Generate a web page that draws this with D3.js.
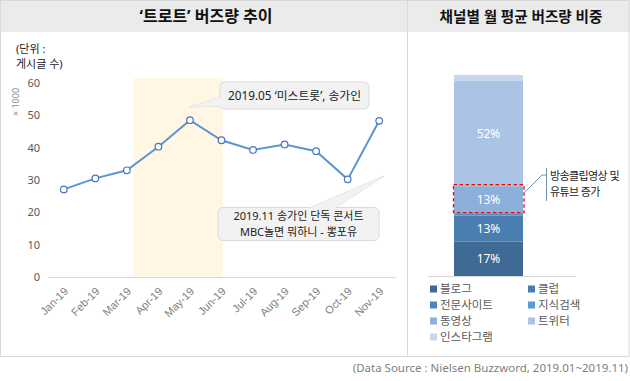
<!DOCTYPE html>
<html><head><meta charset="utf-8">
<script src="https://cdn.jsdelivr.net/npm/d3@7"></script>
<style>
html,body{margin:0;padding:0;background:#fff;}
svg{display:block;font-family:"Noto Sans","Noto Sans CJK KR",sans-serif;}
</style></head>
<body><svg id="c" width="630" height="381"></svg>
<script>
// ---- data ----
const months = ["Jan-19","Feb-19","Mar-19","Apr-19","May-19","Jun-19","Jul-19","Aug-19","Sep-19","Oct-19","Nov-19"];
const buzz = [27.1, 30.5, 33.0, 40.3, 48.5, 42.3, 39.3, 41.0, 38.9, 30.2, 48.3];
const yTicks = [0,10,20,30,40,50,60];
const channels = ["블로그","클럽","전문사이트","지식검색","동영상","트위터","인스타그램"];
const shares = [17.2, 12.9, 0.7, 0.5, 13.4, 52.3, 3.0];
const channelColors = ["#3f6a94","#4a7db0","#4e86bf","#5b9bd5","#8db0da","#abc4e5","#c7d7ee"];

const svg = d3.select("#c");
const border = "#d9d9d9";

// panels
svg.append("rect").attr("x",0).attr("y",0).attr("width",630).attr("height",32).attr("fill","#ebebeb");
svg.append("rect").attr("x",0.5).attr("y",0.5).attr("width",628.5).attr("height",356).attr("fill","none").attr("stroke",border);
svg.append("line").attr("x1",407.5).attr("x2",407.5).attr("y1",0).attr("y2",356.5).attr("stroke",border);

svg.append("text").attr("x",206).attr("y",22).attr("text-anchor","middle")
  .attr("font-size",16).attr("font-weight","bold").attr("fill","#111").text("‘트로트’ 버즈량 추이");
svg.append("text").attr("x",521).attr("y",22).attr("text-anchor","middle")
  .attr("font-size",14.6).attr("font-weight","bold").attr("fill","#111").text("채널별 월 평균 버즈량 비중");

// ---- line chart ----
const x = d3.scaleBand().domain(months).range([48,395]).padding(0);
const cx = d => x(d) + x.bandwidth()/2;
const y = d3.scaleLinear().domain([0,60]).range([277,83]);

const g = svg.append("g");
// highlight band
g.append("rect").attr("x", cx("Mar-19") + 0.22*x.step()).attr("y", 78)
  .attr("width", cx("Jun-19") + 1 - (cx("Mar-19") + 0.22*x.step())).attr("height", y(0)-78)
  .attr("fill","#fff7e3");

// unit text
svg.append("text").attr("x",16).attr("y",53).attr("font-size",11).attr("fill","#222").text("(단위 :");
svg.append("text").attr("x",16).attr("y",68).attr("font-size",11).attr("fill","#222").text("게시글 수)");
svg.append("text").attr("transform","translate(19,102) rotate(-90)").attr("text-anchor","middle")
  .attr("font-size",9).attr("fill","#8c8c8c").text("× 1000");

const yAx = g.append("g").attr("transform","translate(40,0)")
  .call(d3.axisLeft(y).tickValues(yTicks).tickSize(0).tickPadding(0));
yAx.select(".domain").remove();
yAx.selectAll("text").attr("font-size",11).attr("fill","#595959").attr("font-family","'Noto Sans',sans-serif");

const xAx = g.append("g").attr("transform","translate(0,277)")
  .call(d3.axisBottom(x).tickSize(0).tickPadding(0));
xAx.select(".domain").attr("stroke","#d9d9d9").attr("stroke-width",1);
xAx.selectAll("text").attr("font-size",11).attr("fill","#808080")
  .attr("text-anchor","end").attr("dy",0)
  .attr("transform","translate(5,15) rotate(-45)");

// line
g.append("path").datum(buzz)
  .attr("d", d3.line().x((d,i)=>cx(months[i])).y(d=>y(d)))
  .attr("fill","none").attr("stroke","#5b96d2").attr("stroke-width",2);
g.selectAll("circle.pt").data(buzz).join("circle").attr("class","pt")
  .attr("cx",(d,i)=>cx(months[i])).attr("cy",d=>y(d)).attr("r",3.3)
  .attr("fill","#fff").attr("stroke","#4a74c4").attr("stroke-width",1.2);

// callouts
function callout(bx,by,bw,bh,ptr,lines,fs,lh){
  const cg = svg.append("g");
  cg.append("path").attr("d",`M${ptr[0][0]},${ptr[0][1]}L${ptr[1][0]},${ptr[1][1]}L${ptr[2][0]},${ptr[2][1]}Z`)
    .attr("fill","#f2f2f2").attr("stroke","#d9d9d9");
  cg.append("rect").attr("x",bx).attr("y",by).attr("width",bw).attr("height",bh).attr("rx",5)
    .attr("fill","#f2f2f2").attr("stroke","#d9d9d9");
  cg.append("path").attr("d",`M${ptr[0][0]},${ptr[0][1]}L${ptr[1][0]},${ptr[1][1]}L${ptr[2][0]},${ptr[2][1]}`)
    .attr("fill","#f2f2f2").attr("stroke","none");
  const n = lines.length;
  lines.forEach((t,i)=>{
    cg.append("text").attr("x",bx+bw/2).attr("y",by+bh/2 + (i-(n-1)/2)*lh + fs*0.37)
      .attr("text-anchor","middle").attr("font-size",fs).attr("fill","#222").text(t);
  });
}
callout(220,82,149,27,[[221,97],[cx("May-19"),107],[221,106]],["2019.05 ‘미스트롯’, 송가인"],11.8,15);
callout(218,207.5,161,33,[[308,208.5],[384,176],[334,208.5]],["2019.11 송가인 단독 콘서트","MBC놀면 뭐하니 - 뽕포유"],11,16);

// ---- stacked bar ----
const ys = d3.scaleLinear().domain([0,100]).range([276,75]);
let acc = 0;
const segs = shares.map((v,i)=>{ const s={i,v,y0:acc,y1:acc+v}; acc+=v; return s;});
const bx0 = 454, bw = 69;
svg.append("line").attr("x1",428).attr("x2",576).attr("y1",276.5).attr("y2",276.5).attr("stroke","#d9d9d9");
svg.selectAll("rect.seg").data(segs).join("rect").attr("class","seg")
  .attr("x",bx0).attr("width",bw).attr("y",d=>ys(d.y1)).attr("height",d=>ys(d.y0)-ys(d.y1))
  .attr("fill",d=>channelColors[d.i]);
svg.selectAll("text.seg").data(segs.filter(d=>d.v>5)).join("text").attr("class","seg")
  .attr("x",bx0+bw/2).attr("y",d=>(ys(d.y0)+ys(d.y1))/2+4.5).attr("text-anchor","middle")
  .attr("font-size",12).attr("fill","#fff").text(d=>Math.round(d.v)+"%");

// dashed box around 동영상
const vid = segs[4];
svg.append("rect").attr("x",453.5).attr("y",ys(vid.y1)-1.5).attr("width",70.5).attr("height",ys(vid.y0)-ys(vid.y1)+1)
  .attr("fill","none").attr("stroke","#ff0000").attr("stroke-width",1.3).attr("stroke-dasharray","3.5,2.5");
svg.append("path").attr("d","M546.5,168V201M546.5,175H542L524,193").attr("fill","none").attr("stroke","#7090b0").attr("stroke-width",1);
svg.append("text").attr("x",550).attr("y",180).attr("font-size",11).attr("letter-spacing",-0.6).attr("fill","#222").text("방송클립영상 및");
svg.append("text").attr("x",550).attr("y",196).attr("font-size",11).attr("letter-spacing",-0.6).attr("fill","#222").text("유튜브 증가");

// legend
const lg = svg.append("g");
channels.forEach((c,i)=>{
  const col = i%2, row = Math.floor(i/2);
  const lx = col===0 ? 430 : 528, ly = 289 + row*16;
  lg.append("rect").attr("x",lx).attr("y",ly-3.5).attr("width",7).attr("height",7).attr("fill",channelColors[i]);
  lg.append("text").attr("x",lx+10).attr("y",ly+4.3).attr("font-size",11.5).attr("fill","#595959").text(c);
});

// footer
svg.append("text").attr("x",628).attr("y",372).attr("text-anchor","end").attr("font-size",11.5)
  .attr("fill","#7f7f7f").text("(Data Source : Nielsen  Buzzword, 2019.01~2019.11)");
</script></body></html>
